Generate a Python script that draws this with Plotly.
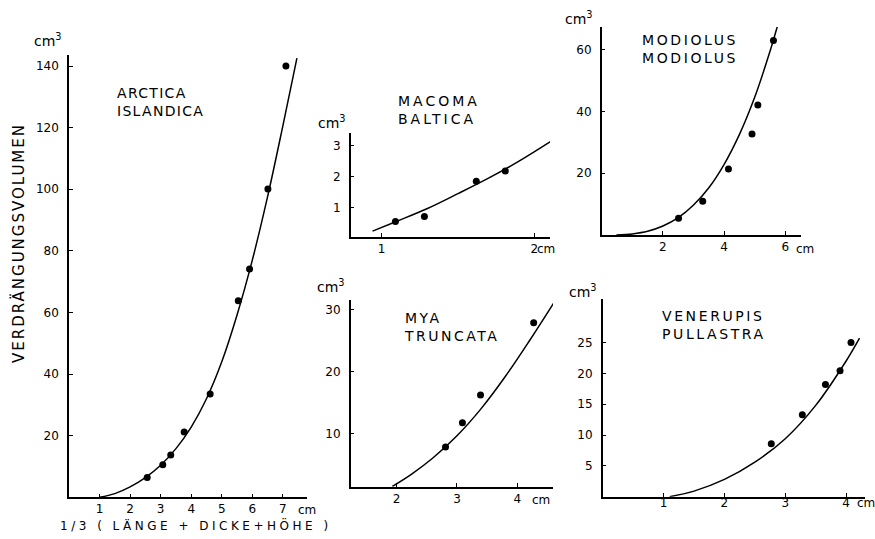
import plotly.graph_objects as go

W, H = 875, 539

# ---- Arctica islandica ----
arctica_x = [2.56, 3.07, 3.33, 3.77, 4.62, 5.54, 5.91, 6.51, 7.10]
arctica_y = [6.4, 10.6, 13.7, 21.2, 33.5, 63.8, 74.1, 100.1, 140.0]
arctica_curve_x = [1.0, 1.5, 2.0, 2.5, 3.0, 3.5, 4.0, 4.5, 5.0, 5.5, 6.0, 6.5, 7.0, 7.46]
arctica_curve_y = [0.0, 1.2, 3.4, 6.4, 10.4, 15.8, 22.8, 32.0, 44.0, 59.2, 77.0, 97.6, 120.6, 142.6]
arctica_xticks = [1, 2, 3, 4, 5, 6, 7]
arctica_xlabels = ["1", "2", "3", "4", "5", "6", "7"]
arctica_yticks = [20, 40, 60, 80, 100, 120, 140]

# ---- Macoma baltica ----
macoma_x = [1.09, 1.28, 1.62, 1.81]
macoma_y = [0.55, 0.71, 1.85, 2.18]
macoma_curve_x = [0.94, 1.1, 1.3, 1.5, 1.7, 1.9, 2.15]
macoma_curve_y = [0.24, 0.56, 0.97, 1.45, 1.95, 2.5, 3.27]
macoma_xticks = [1, 2]
macoma_xlabels = ["1", "2"]
macoma_yticks = [1, 2, 3]

# ---- Modiolus modiolus ----
modiolus_x = [2.51, 3.30, 4.14, 4.91, 5.10, 5.61]
modiolus_y = [5.4, 10.9, 21.4, 32.7, 42.1, 63.0]
modiolus_curve_x = [0.48, 1.0, 1.5, 2.0, 2.5, 3.0, 3.5, 4.0, 4.5, 5.0, 5.5, 5.74]
modiolus_curve_y = [0.0, 0.36, 1.2, 2.9, 5.6, 9.7, 15.3, 22.9, 32.6, 44.7, 59.6, 67.7]
modiolus_xticks = [2, 4, 6]
modiolus_xlabels = ["2", "4", "6"]
modiolus_yticks = [20, 40, 60]

# ---- Mya truncata ----
mya_x = [2.81, 3.09, 3.39, 4.27]
mya_y = [7.8, 11.7, 16.2, 27.9]
mya_curve_x = [1.93, 2.25, 2.6, 3.0, 3.4, 3.8, 4.2, 4.62]
mya_curve_y = [1.4, 3.4, 6.0, 9.6, 14.0, 19.2, 25.0, 31.4]
mya_xticks = [2, 3, 4]
mya_xlabels = ["2", "3", "4"]
mya_yticks = [10, 20, 30]

# ---- Venerupis pullastra ----
venerupis_x = [2.77, 3.28, 3.66, 3.90, 4.08]
venerupis_y = [8.6, 13.3, 18.2, 20.4, 25.0]
venerupis_curve_x = [1.1, 1.5, 2.0, 2.5, 3.0, 3.5, 4.0, 4.22]
venerupis_curve_y = [0.0, 0.9, 2.8, 5.6, 9.4, 14.8, 22.0, 25.7]
venerupis_xticks = [1, 2, 3, 4]
venerupis_xlabels = ["1", "2", "3", "4"]
venerupis_yticks = [5, 10, 15, 20, 25]

FONT = "DejaVu Sans"
INK = "black"


def dom_x(left, right):
    return [left / W, right / W]


def dom_y(top, bottom):
    return [1 - bottom / H, 1 - top / H]


panels = [
    dict(px=(arctica_x, arctica_y), cv=(arctica_curve_x, arctica_curve_y),
         xt=(arctica_xticks, arctica_xlabels), yt=arctica_yticks,
         xd=dom_x(69, 307), yd=dom_y(55, 497.3), xr=[0, 7.79], yr=[0, 143.6], so=0),
    dict(px=(macoma_x, macoma_y), cv=(macoma_curve_x, macoma_curve_y),
         xt=(macoma_xticks, macoma_xlabels), yt=macoma_yticks,
         xd=dom_x(350.7, 550), yd=dom_y(133.3, 237), xr=[0.797, 2.103], yr=[0.05, 3.40], so=0),
    dict(px=(modiolus_x, modiolus_y), cv=(modiolus_curve_x, modiolus_curve_y),
         xt=(modiolus_xticks, modiolus_xlabels), yt=modiolus_yticks,
         xd=dom_x(601.7, 800.7), yd=dom_y(27, 235), xr=[0, 6.5], yr=[0, 67.4], so=0),
    dict(px=(mya_x, mya_y), cv=(mya_curve_x, mya_curve_y),
         xt=(mya_xticks, mya_xlabels), yt=mya_yticks,
         xd=dom_x(350.7, 553), yd=dom_y(300, 486.7), xr=[1.24, 4.59], yr=[1.35, 31.6], so=0),
    dict(px=(venerupis_x, venerupis_y), cv=(venerupis_curve_x, venerupis_curve_y),
         xt=(venerupis_xticks, venerupis_xlabels), yt=venerupis_yticks,
         xd=dom_x(602.7, 865), yd=dom_y(299.3, 496.7), xr=[0, 4.31], yr=[0, 32], so=-6),
]

fig = go.Figure()
layout = dict(
    width=W, height=H, margin=dict(l=0, r=0, t=0, b=0),
    paper_bgcolor="white", plot_bgcolor="white", showlegend=False,
    font=dict(family=FONT, color=INK, size=12),
)

for i, p in enumerate(panels, start=1):
    xa = "x" if i == 1 else f"x{i}"
    ya = "y" if i == 1 else f"y{i}"
    fig.add_trace(go.Scatter(x=p["cv"][0], y=p["cv"][1], mode="lines",
                             line=dict(color=INK, width=1.5, shape="spline", smoothing=1.0),
                             xaxis=xa, yaxis=ya, hoverinfo="skip"))
    fig.add_trace(go.Scatter(x=p["px"][0], y=p["px"][1], mode="markers",
                             marker=dict(color=INK, size=7),
                             xaxis=xa, yaxis=ya, cliponaxis=False))
    common = dict(showline=True, linecolor=INK, linewidth=1.5, showgrid=False,
                  zeroline=False, ticks="inside", ticklen=4, tickwidth=1.2,
                  tickcolor=INK, tickfont=dict(family=FONT, size=12, color=INK),
                  fixedrange=True)
    layout["xaxis" if i == 1 else f"xaxis{i}"] = dict(
        common, domain=p["xd"], range=p["xr"], anchor=ya,
        tickmode="array", tickvals=p["xt"][0], ticktext=p["xt"][1],
        ticklabelstandoff=p["so"])
    layout["yaxis" if i == 1 else f"yaxis{i}"] = dict(
        common, domain=p["yd"], range=p["yr"], anchor=xa,
        tickmode="array", tickvals=p["yt"], ticktext=[str(v) for v in p["yt"]],
        ticklabelstandoff=6)


def note(text, x, y, size=13, xanchor="center", angle=0, spacing=0):
    if spacing:
        text = "<br>".join(
            f'<span style="letter-spacing:{spacing}px">{line}</span>'
            for line in text.split("<br>"))
    return dict(text=text, x=x / W, y=1 - y / H, xref="paper", yref="paper",
                showarrow=False, xanchor=xanchor, yanchor="middle", textangle=angle,
                font=dict(family=FONT, size=size, color=INK), align="left")


annotations = [
    # unit labels on the vertical axes
    note("cm<sup>3</sup>", 48, 40, size=14),
    note("cm<sup>3</sup>", 332, 122, size=14),
    note("cm<sup>3</sup>", 579, 18, size=14),
    note("cm<sup>3</sup>", 331, 286, size=14),
    note("cm<sup>3</sup>", 583, 291, size=14),
    # unit labels at the end of the horizontal axes
    note("cm", 307, 510, size=12),
    note("cm", 546, 249, size=12),
    note("cm", 805, 249, size=12),
    note("cm", 541, 500, size=12),
    note("cm", 866, 503, size=12),
    # species names
    note("ARCTICA<br>ISLANDICA", 115, 102, size=14, xanchor="left", spacing=1.3),
    note("MACOMA<br>BALTICA", 396, 110, size=14, xanchor="left", spacing=3),
    note("MODIOLUS<br>MODIOLUS", 640, 49, size=14, xanchor="left", spacing=2.6),
    note("MYA<br>TRUNCATA", 402, 327, size=14, xanchor="left", spacing=2.5),
    note("VENERUPIS<br>PULLASTRA", 660, 325, size=14, xanchor="left", spacing=2.6),
    # axis titles
    note("VERDRÄNGUNGSVOLUMEN", 18, 243, size=15, angle=-90, spacing=2),
    note("1/3 ( LÄNGE + DICKE+HÖHE )", 196, 525, size=12, spacing=3.5),
]
layout["annotations"] = annotations
fig.update_layout(**layout)

fig.write_html("out.html")
